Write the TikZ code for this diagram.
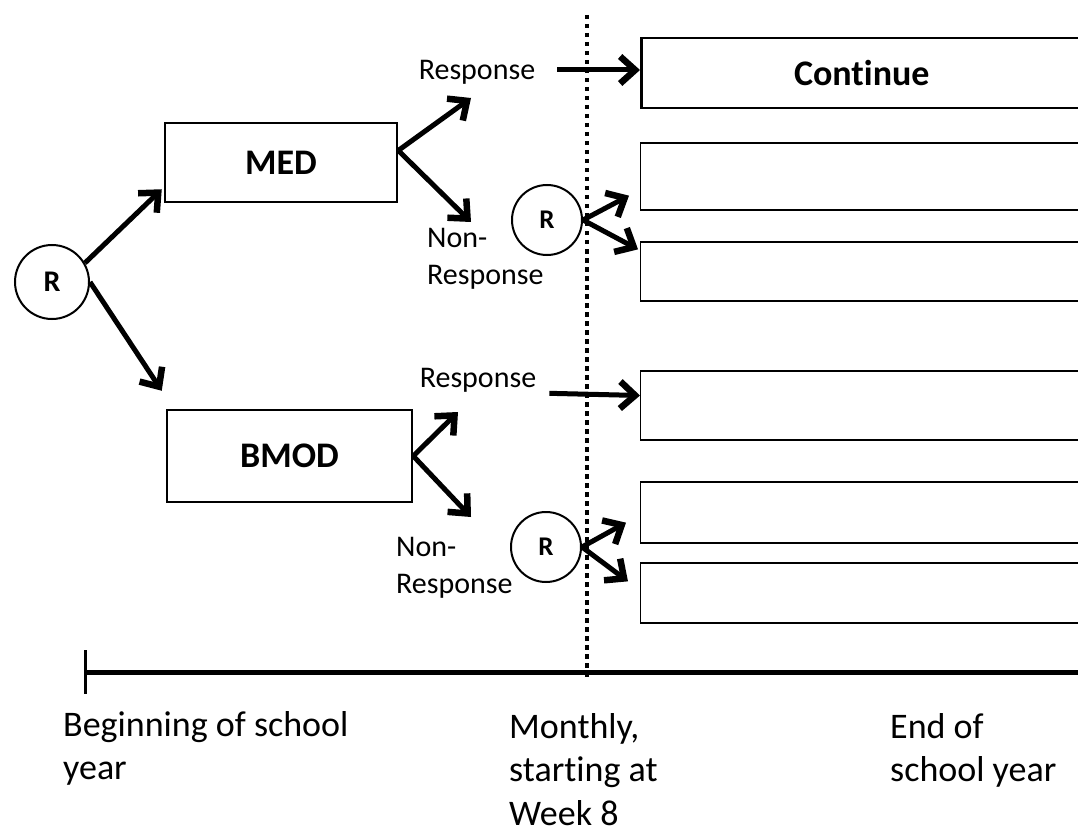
\documentclass[tikz,border=0pt]{standalone}
\usepackage{fontspec}
\setmainfont[Ligatures=NoCommon]{Carlito}
\usetikzlibrary{arrows.meta}

\begin{document}
\begin{tikzpicture}[x=1pt, y=-1pt,
    arr/.style={draw, line width=5pt, line join=round,
                -{Straight Barb[length=15pt,width=27pt,line width=1.5pt 1]}},
    box/.style={draw, line width=1.3pt, minimum width=441pt, anchor=west, inner sep=0pt},
    grp/.style={draw, line width=2.5pt, font=\fontsize{36}{43}\selectfont\bfseries},
    rnd/.style={draw, circle, line width=2pt, inner sep=0pt, font=\fontsize{27}{32}\selectfont\bfseries},
    lbl/.style={inner sep=0pt, align=left, font=\fontsize{30}{37}\selectfont},
    axis/.style={inner sep=0pt, align=left, anchor=north west, font=\fontsize{36}{43.5}\selectfont}]
  \useasboundingbox (0,0) rectangle (1078,834);
  \clip (0,0) rectangle (1078,834);
  % first randomisation
  \node (r0) [rnd, minimum size=74pt, font=\fontsize{30}{36}\selectfont\bfseries] at (52,282) {R};
  \node (med) [grp, minimum width=232pt, minimum height=79pt] at (281,162.5) {MED};
  \node (bmod) [grp, minimum width=245pt, minimum height=92pt] at (289.5,456) {BMOD};
  % responses at week 8
  \node (resp1) [lbl] at (477,72) {Response};
  \node (nr1) [lbl, anchor=north west] at (427,228) {Non-\\Response};
  \node (r1) [rnd, minimum size=70pt] at (547,220) {R};
  \node (resp2) [lbl] at (478,380) {Response};
  \node (nr2) [lbl, anchor=north west] at (396,537) {Non-\\Response};
  \node (r2) [rnd, minimum size=70pt] at (546,547) {R};
  % second stage
  \node (cont) [box, line width=2.5pt, minimum height=70pt,
                font=\fontsize{36}{43}\selectfont\bfseries] at (640,73) {Continue};
  \node (b2) [box, minimum height=67pt] at (640,176.5) {};
  \node (b3) [box, minimum height=59pt] at (640,271.5) {};
  \node (b4) [box, minimum height=69pt] at (640,405.5) {};
  \node (b5) [box, minimum height=61pt] at (640,512.5) {};
  \node (b6) [box, minimum height=60pt] at (640,593) {};
  \coordinate (up1) at (471,98);
  \coordinate (dn1) at (471,222);
  \coordinate (up2) at (458,412);
  \coordinate (dn2) at (471,517);
  \path (r0.30) edge [arr] ([shift={(-2pt,14pt)}]med.south west)
        (r0.east) edge [arr] ([shift={(-4pt,18pt)}]bmod.north west)
        ([yshift=12pt]med.east) edge [arr] (up1)
        ([yshift=12pt]med.east) edge [arr] (dn1)
        (bmod.east) edge [arr] (up2)
        (bmod.east) edge [arr] (dn2);
  \path ([yshift=2pt]resp1.east) edge [arr, shorten <=22pt] ([yshift=3pt]cont.west)
        (r1.east) edge [arr] ([shift={(-11pt,15pt)}]b2.south west)
        (r1.east) edge [arr] ([shift={(-2pt,-8pt)}]b3.north west)
        ([yshift=-13pt]resp2.east) edge [arr, shorten <=13pt] ([yshift=10pt]b4.west)
        (r2.east) edge [arr] ([shift={(-14pt,21pt)}]b5.south west)
        (r2.east) edge [arr] ([shift={(-12pt,-19pt)}]b6.north west);
  % time line
  \draw[line width=4pt, dash pattern=on 4.5pt off 4.5pt] (587,15) -- (587,678);
  \draw[line width=5pt] (85,672) -- (1090,672);
  \draw[line width=3pt] (85,650) -- (85,694);
  \node (start) [axis] at (63,711) {Beginning of school\\year};
  \node (week) [axis] at (509,713) {Monthly,\\starting at\\Week 8};
  \node (yearend) [axis] at (890,713) {End of\\school year};
\end{tikzpicture}
\end{document}
